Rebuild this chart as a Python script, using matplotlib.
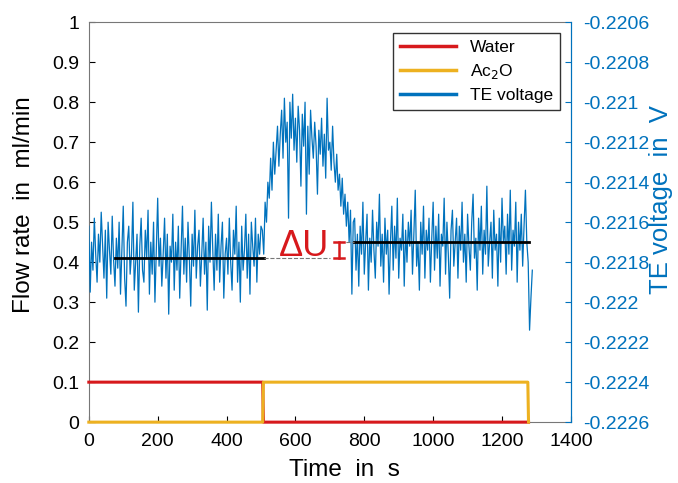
import numpy as np
import matplotlib
matplotlib.use("Agg")
import matplotlib.pyplot as plt

plt.rcParams['font.family'] = ['Liberation Sans', 'DejaVu Sans']

# flow rates (ml/min), step changes
flow_t = [0, 505, 507, 1275, 1277]
water = [0.1, 0.1, 0.0, 0.0, 0.0]
ac2o = [0.0, 0.0, 0.1, 0.1, 0.0]

# TE voltage in mV, one sample every 4 s
dt = 4
te_mV = [
    # baseline, water
    -221.62, -221.95, -221.70, -221.84, -221.58, -221.76, -221.90, -221.66, -221.80, -221.55,
    -221.72, -221.88, -221.64, -221.98, -221.60, -221.74, -221.86, -221.57, -221.79, -221.92,
    -221.68, -221.83, -221.60, -221.96, -221.74, -221.52, -221.88, -222.02, -221.70, -221.62,
    -221.86, -221.76, -221.50, -221.94, -221.80, -221.66, -222.05, -221.72, -221.58, -221.84,
    -221.90, -221.64, -221.78, -221.54, -221.96, -221.70, -221.86, -221.60, -222.00, -221.74,
    -221.48, -221.82, -221.68, -221.92, -221.76, -221.58, -221.88, -221.66, -222.06, -221.72,
    -221.80, -221.56, -221.94, -221.70, -221.84, -221.62, -221.98, -221.74, -221.52, -221.86,
    -221.68, -221.90, -221.60, -221.78, -222.02, -221.66, -221.82, -221.54, -221.88, -221.72,
    -221.64, -221.92, -221.76, -221.58, -221.86, -221.70, -222.04, -221.62, -221.80, -221.50,
    -221.74, -221.94, -221.66, -221.84, -221.56, -221.90, -221.72, -221.60, -221.98, -221.76,
    -221.68, -221.86, -221.58, -221.80, -221.94, -221.64, -221.76, -221.52, -221.90, -221.70,
    -222.00, -221.62, -221.84, -221.74, -221.56, -221.88, -221.66, -221.96, -221.60, -221.72,
    -221.82, -221.58, -221.90, -221.66, -221.76, -221.62,
    # rise after switching to Ac2O
    -221.64, -221.76, -221.50, -221.60, -221.40, -221.48, -221.28, -221.44, -221.20, -221.36,
    -221.24, -221.12, -221.32, -221.16,
    # peak
    -221.04, -221.28, -220.98, -221.20, -221.10, -221.58, -221.00, -221.18, -220.96, -221.24,
    -221.08, -221.30, -221.02, -221.14, -221.42, -221.06, -221.22, -221.00, -221.56, -221.12,
    -221.36, -221.04, -221.18, -221.28, -221.10, -221.22, -221.46, -221.14, -221.26, -221.08,
    -221.32, -221.16, -221.38, -220.98, -221.24,
    # decline
    -221.20, -221.34, -221.12, -221.30, -221.40, -221.26, -221.44, -221.36, -221.52, -221.38,
    -221.56, -221.46, -221.62, -221.50, -221.70, -221.54, -221.96, -221.60,
    # new level, Ac2O
    -221.58, -221.84, -221.66, -221.92, -221.62, -221.76, -221.50, -221.86, -221.70, -221.56,
    -221.94, -221.68, -221.80, -221.54, -221.74, -221.88, -221.60, -221.72, -221.46, -221.82,
    -221.66, -221.90, -221.58, -221.76, -221.64, -221.96, -221.70, -221.52, -221.84, -221.62,
    -221.78, -221.48, -221.88, -221.68, -221.74, -221.56, -221.92, -221.64, -221.80, -221.60,
    -221.72, -221.54, -221.86, -221.66, -221.44, -221.82, -221.70, -221.94, -221.60, -221.76,
    -221.52, -221.88, -221.64, -221.74, -221.58, -221.90, -221.68, -221.50, -221.84, -221.62,
    -221.78, -221.56, -221.92, -221.66, -221.72, -221.48, -221.86, -221.60, -221.76, -221.98,
    -221.64, -221.54, -221.82, -221.70, -221.58, -221.88, -221.62, -221.74, -221.50, -221.80,
    -221.66, -221.90, -221.56, -221.72, -221.84, -221.60, -221.46, -221.78, -221.68, -221.94,
    -221.58, -221.74, -221.52, -221.86, -221.64, -221.76, -221.42, -221.82, -221.70, -221.60,
    -221.88, -221.54, -221.74, -221.66, -221.92, -221.58, -221.80, -221.48, -221.70, -221.62,
    -221.86, -221.56, -221.76, -221.44, -221.84, -221.64, -221.72, -221.50, -221.90, -221.60,
    -221.74, -221.56, -221.82, -221.62, -221.44, -221.70,
    # end
    -221.80, -222.14, -221.98, -221.84,
]

# mean levels (mV) used for the delta U marks
level1 = -221.78
level2 = -221.70

red = '#D7191C'
yellow = '#EDB120'
blue = '#0072BD'
gray = '#777777'

te_t = np.arange(len(te_mV)) * dt
te_V = np.array(te_mV) / 1000

fig = plt.figure(figsize=(6.78, 4.83), dpi=100)
ax = fig.add_axes([0.131, 0.126, 0.711, 0.828])
ax2 = ax.twinx()

l3, = ax2.plot(te_t, te_V, color=blue, lw=0.9)

# delta U annotation
ax2.plot([75, 510], [level1 / 1000] * 2, color='black', lw=2)
ax2.plot([510, 700], [level1 / 1000] * 2, color=gray, lw=0.8, ls='--')
ax2.plot([770, 1278], [level2 / 1000] * 2, color='black', lw=2)
ax2.plot([730, 770], [level2 / 1000] * 2, color=gray, lw=0.8, ls='--')
ax2.plot([727, 727], [level1 / 1000, level2 / 1000], color=red, lw=1.8)
ax2.plot([712, 742], [level1 / 1000] * 2, color=red, lw=1.8)
ax2.plot([712, 742], [level2 / 1000] * 2, color=red, lw=1.8)
ax2.text(624, -0.22172, '\u0394U', color=red, fontsize=26, ha='center', va='center')

ax2.set_ylim(-0.2226, -0.2206)
r_ticks = np.arange(-0.2226, -0.22059, 0.0002)
ax2.set_yticks(r_ticks)
ax2.set_yticklabels(['%g' % round(v, 4) for v in r_ticks])

# flow lines drawn on the twin axes (left scale converted) so they sit above the spines
v0, v1 = -0.2226, -0.2206
to_right = lambda f: v0 + np.array(f) * (v1 - v0)
l1, = ax2.plot(flow_t, to_right(water), color=red, lw=2.2, zorder=3, clip_on=False)
l2, = ax2.plot(flow_t, to_right(ac2o), color=yellow, lw=2.2, zorder=4, clip_on=False)

ax.set_xlim(0, 1400)
ax.set_ylim(0, 1)
ax.set_xticks(np.arange(0, 1401, 200))
ax.set_yticks(np.arange(0, 1.01, 0.1))
ax.set_yticklabels(['0', '0.1', '0.2', '0.3', '0.4', '0.5', '0.6', '0.7', '0.8', '0.9', '1'])

ax.tick_params(direction='in', labelsize=14, colors='black', length=4, pad=7)
ax.tick_params(axis='x', top=False, pad=8)
ax2.tick_params(direction='in', labelsize=14, colors=blue, length=4, pad=9)
for s in ['left', 'top', 'bottom']:
    ax.spines[s].set_color(gray)
    ax2.spines[s].set_visible(False)
ax2.spines['right'].set_color(blue)
ax.spines['right'].set_color(blue)

ax.set_xlabel('Time  in  s', fontsize=17.5)
ax.xaxis.set_label_coords(0.531, -0.092)
ax.set_ylabel('Flow rate  in  ml/min', fontsize=17.5)
ax.yaxis.set_label_coords(-0.112, 0.545)
ax2.set_ylabel('TE voltage  in  V', fontsize=18.5, color=blue)
ax2.yaxis.set_label_coords(1.162, 0.557)

leg = ax2.legend([l1, l2, l3], ['Water', 'Ac$_2$O', 'TE voltage'], loc='upper right',
                 bbox_to_anchor=(0.995, 0.995), fontsize=12.5, fancybox=False,
                 framealpha=1, edgecolor='#333333', handlelength=3.2,
                 borderpad=0.4, labelspacing=0.4)
leg.get_frame().set_linewidth(1.0)
for h in leg.legend_handles:
    h.set_linewidth(2.5)

fig.savefig('out.png', dpi=100)
